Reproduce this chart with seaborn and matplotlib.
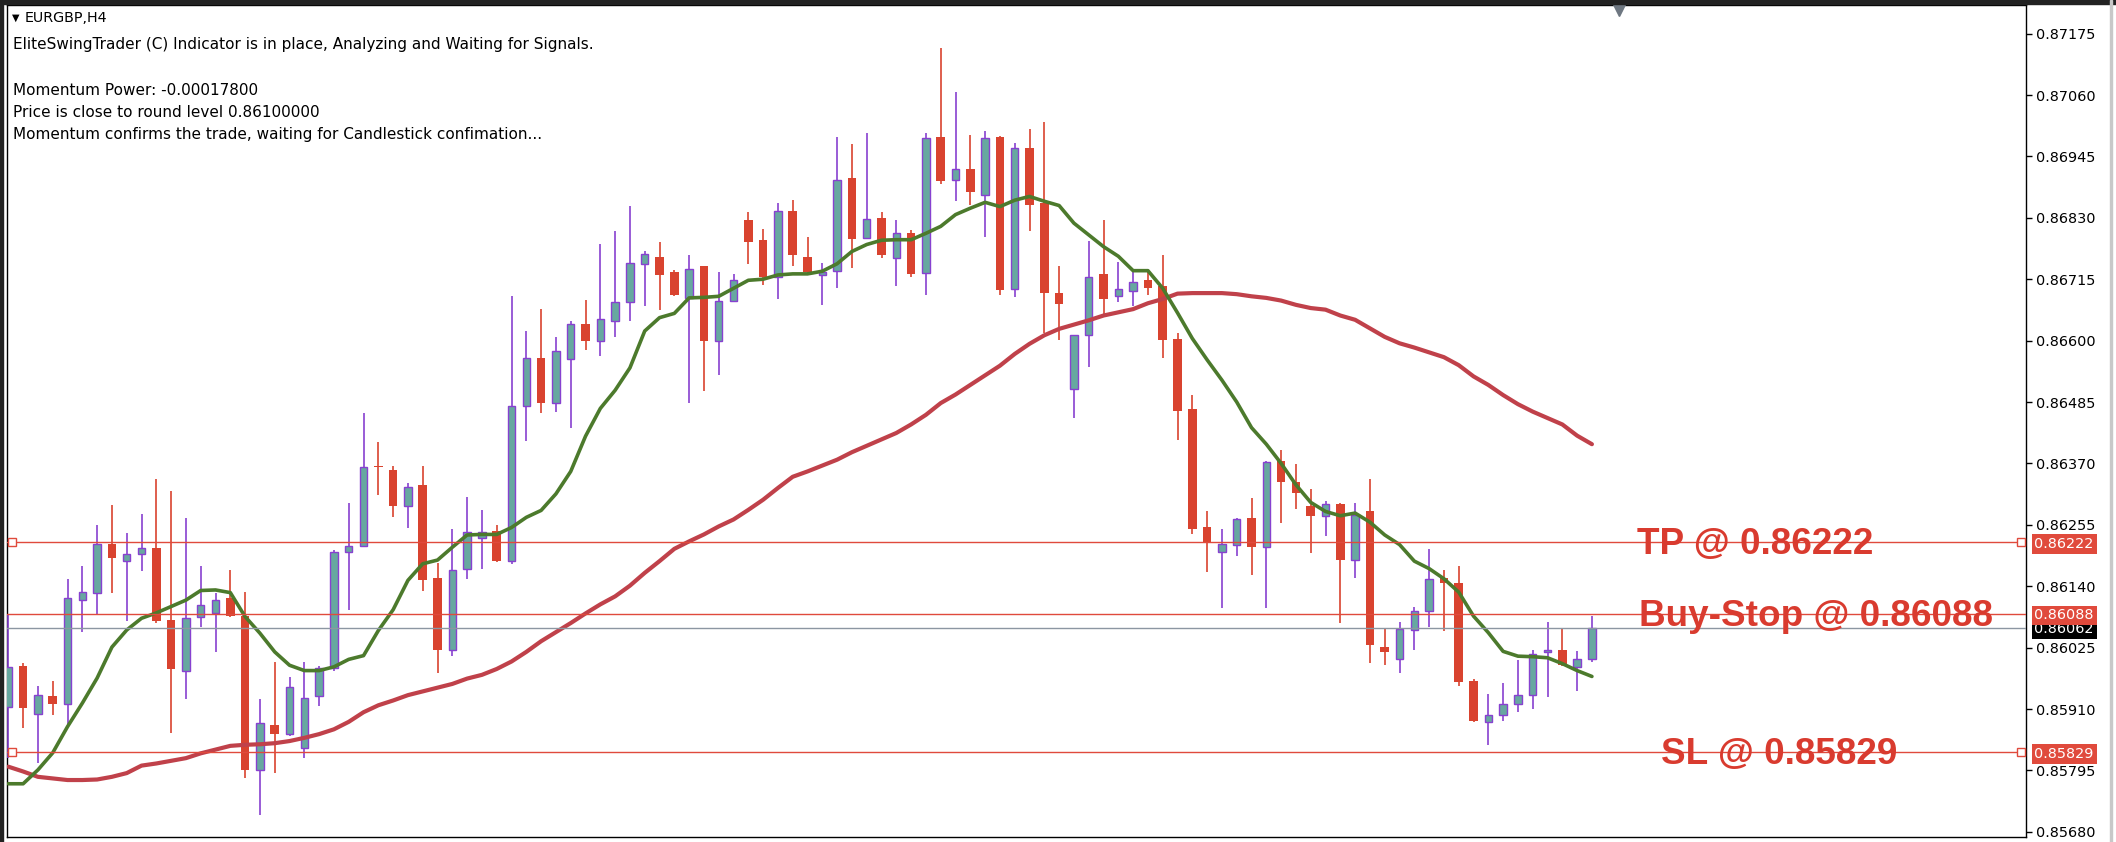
import matplotlib
matplotlib.use("Agg")
from matplotlib import pyplot as plt
from matplotlib import transforms
from matplotlib.patches import Rectangle
import pandas as pd
import seaborn as sns

# EURGBP H4 candles (oldest first)
opens = [0.85913, 0.85990, 0.85900, 0.85935, 0.85920, 0.86114, 0.86128, 0.86220, 0.86187, 0.86200,
         0.86212, 0.86077, 0.85982, 0.86082, 0.86090, 0.86118, 0.86084, 0.85795, 0.85880, 0.85864,
         0.85837, 0.85934, 0.85986, 0.86205, 0.86215, 0.86365, 0.86358, 0.86291, 0.86329, 0.86156,
         0.86021, 0.86173, 0.86230, 0.86243, 0.86188, 0.86478, 0.86568, 0.86484, 0.86565, 0.86631,
         0.86599, 0.86637, 0.86672, 0.86744, 0.86756, 0.86728, 0.86680, 0.86739, 0.86599, 0.86675,
         0.86825, 0.86788, 0.86720, 0.86842, 0.86756, 0.86723, 0.86731, 0.86905, 0.86793, 0.86829,
         0.86755, 0.86801, 0.86727, 0.86981, 0.86900, 0.86922, 0.86873, 0.86981, 0.86697, 0.86960,
         0.86857, 0.86689, 0.86509, 0.86610, 0.86725, 0.86683, 0.86693, 0.86714, 0.86703, 0.86603,
         0.86472, 0.86250, 0.86204, 0.86217, 0.86267, 0.86214, 0.86375, 0.86336, 0.86291, 0.86272,
         0.86294, 0.86189, 0.86281, 0.86027, 0.86003, 0.86058, 0.86093, 0.86156, 0.86146, 0.85963,
         0.85885, 0.85899, 0.85920, 0.85937, 0.86017, 0.86020, 0.85989, 0.86003]
highs = [0.86086, 0.85997, 0.85953, 0.85963, 0.86153, 0.86178, 0.86254, 0.86292, 0.86240, 0.86275,
         0.86341, 0.86319, 0.86268, 0.86178, 0.86127, 0.86171, 0.86129, 0.85929, 0.85998, 0.85970,
         0.85998, 0.85990, 0.86208, 0.86296, 0.86465, 0.86410, 0.86365, 0.86334, 0.86365, 0.86183,
         0.86248, 0.86307, 0.86282, 0.86255, 0.86684, 0.86618, 0.86659, 0.86606, 0.86637, 0.86676,
         0.86781, 0.86805, 0.86853, 0.86767, 0.86785, 0.86733, 0.86760, 0.86740, 0.86728, 0.86725,
         0.86840, 0.86809, 0.86858, 0.86864, 0.86795, 0.86745, 0.86982, 0.86969, 0.86989, 0.86840,
         0.86826, 0.86808, 0.86988, 0.87148, 0.87065, 0.86985, 0.86992, 0.86984, 0.86971, 0.86996,
         0.87009, 0.86739, 0.86611, 0.86787, 0.86825, 0.86747, 0.86734, 0.86733, 0.86760, 0.86614,
         0.86499, 0.86281, 0.86247, 0.86267, 0.86305, 0.86374, 0.86395, 0.86368, 0.86323, 0.86299,
         0.86296, 0.86295, 0.86341, 0.86059, 0.86073, 0.86101, 0.86209, 0.86171, 0.86177, 0.85966,
         0.85939, 0.85959, 0.86001, 0.86020, 0.86073, 0.86059, 0.86018, 0.86084]
lows = [0.85818, 0.85875, 0.85809, 0.85898, 0.85881, 0.86054, 0.86087, 0.86127, 0.86074, 0.86168,
        0.86071, 0.85866, 0.85929, 0.86064, 0.86016, 0.86082, 0.85781, 0.85711, 0.85790, 0.85860,
        0.85818, 0.85915, 0.85982, 0.86096, 0.86213, 0.86311, 0.86270, 0.86249, 0.86131, 0.85978,
        0.86010, 0.86153, 0.86173, 0.86186, 0.86181, 0.86412, 0.86464, 0.86467, 0.86436, 0.86583,
        0.86571, 0.86606, 0.86637, 0.86664, 0.86657, 0.86684, 0.86483, 0.86505, 0.86535, 0.86674,
        0.86743, 0.86705, 0.86678, 0.86740, 0.86727, 0.86667, 0.86698, 0.86736, 0.86792, 0.86754,
        0.86702, 0.86719, 0.86685, 0.86893, 0.86861, 0.86854, 0.86795, 0.86685, 0.86682, 0.86806,
        0.86615, 0.86602, 0.86456, 0.86550, 0.86648, 0.86672, 0.86664, 0.86685, 0.86567, 0.86414,
        0.86237, 0.86167, 0.86099, 0.86196, 0.86161, 0.86099, 0.86258, 0.86285, 0.86203, 0.86234,
        0.86072, 0.86155, 0.85996, 0.85992, 0.85978, 0.86020, 0.86064, 0.86057, 0.85954, 0.85885,
        0.85843, 0.85888, 0.85905, 0.85910, 0.85933, 0.85991, 0.85943, 0.85999]
closes = [0.85989, 0.85912, 0.85937, 0.85919, 0.86118, 0.86129, 0.86219, 0.86193, 0.86201, 0.86212,
          0.86074, 0.85985, 0.86080, 0.86104, 0.86114, 0.86085, 0.85795, 0.85883, 0.85864, 0.85951,
          0.85931, 0.85986, 0.86204, 0.86215, 0.86364, 0.86363, 0.86291, 0.86326, 0.86152, 0.86021,
          0.86170, 0.86242, 0.86242, 0.86187, 0.86478, 0.86568, 0.86483, 0.86581, 0.86631, 0.86599,
          0.86641, 0.86673, 0.86745, 0.86762, 0.86722, 0.86685, 0.86735, 0.86599, 0.86675, 0.86714,
          0.86785, 0.86719, 0.86842, 0.86761, 0.86728, 0.86728, 0.86901, 0.86791, 0.86828, 0.86760,
          0.86801, 0.86725, 0.86980, 0.86899, 0.86922, 0.86878, 0.86980, 0.86695, 0.86960, 0.86854,
          0.86689, 0.86668, 0.86610, 0.86720, 0.86678, 0.86697, 0.86710, 0.86698, 0.86602, 0.86469,
          0.86247, 0.86222, 0.86219, 0.86266, 0.86213, 0.86373, 0.86335, 0.86314, 0.86272, 0.86294,
          0.86189, 0.86274, 0.86030, 0.86017, 0.86059, 0.86094, 0.86153, 0.86146, 0.85961, 0.85887,
          0.85899, 0.85920, 0.85937, 0.86013, 0.86020, 0.85992, 0.86003, 0.86062]

# indicator lines as drawn on the chart
fast_ma = [0.85770, 0.85770, 0.85796, 0.85828, 0.85877, 0.85921, 0.85968, 0.86026, 0.86058, 0.86080,
           0.86090, 0.86102, 0.86114, 0.86132, 0.86133, 0.86128, 0.86083, 0.86052, 0.86017, 0.85992,
           0.85982, 0.85982, 0.85989, 0.86003, 0.86010, 0.86057, 0.86096, 0.86151, 0.86182, 0.86189,
           0.86213, 0.86236, 0.86237, 0.86237, 0.86250, 0.86269, 0.86282, 0.86313, 0.86355, 0.86421,
           0.86473, 0.86507, 0.86549, 0.86618, 0.86643, 0.86651, 0.86680, 0.86681, 0.86683, 0.86698,
           0.86713, 0.86715, 0.86723, 0.86725, 0.86725, 0.86730, 0.86744, 0.86767, 0.86780, 0.86788,
           0.86789, 0.86789, 0.86801, 0.86814, 0.86836, 0.86848, 0.86859, 0.86851, 0.86863, 0.86870,
           0.86861, 0.86853, 0.86820, 0.86798, 0.86776, 0.86758, 0.86731, 0.86731, 0.86698, 0.86652,
           0.86604, 0.86564, 0.86526, 0.86485, 0.86437, 0.86406, 0.86370, 0.86330, 0.86297, 0.86280,
           0.86272, 0.86277, 0.86260, 0.86236, 0.86218, 0.86187, 0.86173, 0.86154, 0.86129, 0.86084,
           0.86053, 0.86018, 0.86009, 0.86008, 0.86006, 0.85995, 0.85982, 0.85971]
slow_ma = [0.85802, 0.85793, 0.85783, 0.85780, 0.85777, 0.85777, 0.85778, 0.85783, 0.85790, 0.85804,
           0.85808, 0.85813, 0.85818, 0.85827, 0.85834, 0.85841, 0.85843, 0.85844, 0.85846, 0.85850,
           0.85856, 0.85863, 0.85872, 0.85886, 0.85904, 0.85917, 0.85926, 0.85936, 0.85943, 0.85950,
           0.85957, 0.85967, 0.85974, 0.85985, 0.85999, 0.86017, 0.86037, 0.86054, 0.86071, 0.86089,
           0.86106, 0.86121, 0.86141, 0.86165, 0.86187, 0.86210, 0.86224, 0.86237, 0.86252, 0.86265,
           0.86283, 0.86302, 0.86324, 0.86345, 0.86355, 0.86366, 0.86377, 0.86391, 0.86403, 0.86415,
           0.86427, 0.86443, 0.86461, 0.86483, 0.86499, 0.86517, 0.86535, 0.86553, 0.86575, 0.86594,
           0.86610, 0.86622, 0.86630, 0.86638, 0.86647, 0.86653, 0.86659, 0.86670, 0.86678, 0.86688,
           0.86689, 0.86689, 0.86689, 0.86687, 0.86683, 0.86680, 0.86675, 0.86667, 0.86661, 0.86658,
           0.86647, 0.86639, 0.86623, 0.86607, 0.86595, 0.86587, 0.86578, 0.86569, 0.86554, 0.86533,
           0.86517, 0.86498, 0.86481, 0.86467, 0.86455, 0.86443, 0.86422, 0.86406]

tick_prices = [0.85680, 0.85795, 0.85910, 0.86025, 0.86140, 0.86255, 0.86370,
               0.86485, 0.86600, 0.86715, 0.86830, 0.86945, 0.87060, 0.87175]

tp_price = 0.86222
buy_stop_price = 0.86088
sl_price = 0.85829
bid_price = 0.86062

symbol_label = "EURGBP,H4"
info_lines = ["EliteSwingTrader (C) Indicator is in place, Analyzing and Waiting for Signals.",
              "Momentum Power: -0.00017800",
              "Price is close to round level 0.86100000",
              "Momentum confirms the trade, waiting for Candlestick confimation..."]

W, H = 2116, 842
BEAR = "#D9432F"
BULL = "#67A8A0"
PURPLE = "#8741D0"
LINE_RED = "#E04A3C"
LABEL_RED = "#D93B2F"

sns.set_theme(style="white")
plt.rcParams['font.family'] = ['DejaVu Sans']

df = pd.DataFrame({"bar": range(len(opens)), "open": opens, "high": highs, "low": lows,
                   "close": closes, "fast": fast_ma, "slow": slow_ma})
up = df[df["close"] >= df["open"]]
down = df[df["close"] < df["open"]]

fig = plt.figure(figsize=(W / 100, H / 100), dpi=100)
fig.patch.set_facecolor("white")
ax = fig.add_axes([7 / W, 5 / H, 2019 / W, 832 / H])
ax.set_facecolor("white")

# candles
ax.vlines(down["bar"], down["low"], down["high"], color=BEAR, lw=1.2, zorder=3)
ax.vlines(up["bar"], up["low"], up["high"], color=PURPLE, lw=1.2, zorder=3)
ax.bar(down["bar"], down["open"] - down["close"], bottom=down["close"], width=0.58,
       color=BEAR, linewidth=0, zorder=4)
ax.bar(up["bar"], up["close"] - up["open"], bottom=up["open"], width=0.5,
       color=BULL, edgecolor=PURPLE, linewidth=1.0, zorder=4)

# moving averages
sns.lineplot(x=df["bar"], y=df["slow"], ax=ax, color="#C0414A", linewidth=3.0, zorder=5)
sns.lineplot(x=df["bar"], y=df["fast"], ax=ax, color="#4C7A2C", linewidth=2.6, zorder=5)

# order lines
ax.axhline(bid_price, color="#8C96A2", lw=1.0, zorder=5.5)
for price in [tp_price, buy_stop_price, sl_price]:
    ax.axhline(price, color=LINE_RED, lw=1.0, zorder=6)
for price in [tp_price, sl_price]:
    ax.plot([0.0025, 0.9975], [price, price], ls="none", marker="s", ms=5.5, mfc="white",
            mec=LINE_RED, mew=1.0, transform=ax.get_yaxis_transform(), zorder=7, clip_on=False)

big_labels = [("TP @ ", tp_price, 1637), ("Buy-Stop @ ", buy_stop_price, 1639), ("SL @ ", sl_price, 1661)]
for name, price, xpx in big_labels:
    ax.annotate(f"{name}{price:.5f}", xy=((xpx - 7) / 2019, price), xycoords=ax.get_yaxis_transform(),
                xytext=(0, -12), textcoords="offset pixels", ha="left", va="baseline",
                fontsize=26.6, fontweight="bold", family=["Liberation Sans", "DejaVu Sans"],
                color=LABEL_RED, zorder=8)

# axes
ax.set_xlim(-0.09, 136.33)
ax.set_ylim(0.856703, 0.872286)
ax.set_xticks([])
ax.yaxis.tick_right()
ax.set_yticks(tick_prices)
ax.set_yticklabels([f"{p:.5f}" for p in tick_prices])
ax.tick_params(axis="y", right=True, left=False, direction="out", length=4.5, width=1.0,
               pad=3, labelsize=10.4, labelcolor="black", color="black")
ax.set_xlabel("")
ax.set_ylabel("")
for s in ax.spines.values():
    s.set_color("black")
    s.set_linewidth(1.0)

# price tags on the scale
tag_trans = transforms.offset_copy(ax.get_yaxis_transform(), fig=fig, x=8.5, y=0, units="dots")
for price, fc, z in [(bid_price, "black", 10), (tp_price, LINE_RED, 11),
                     (buy_stop_price, LINE_RED, 11), (sl_price, LINE_RED, 11)]:
    ax.text(1.0, price, f"{price:.5f}", transform=tag_trans, ha="left", va="center_baseline",
            fontsize=10.4, color="white", zorder=z, clip_on=False,
            bbox=dict(boxstyle="square,pad=0.2", fc=fc, ec="none"))

# chart shift marker
ax.plot([0.7984], [0.994], marker="v", ms=8, color="#6E7781", transform=ax.transAxes,
        clip_on=False, zorder=9)

# info text block
fig.text(12 / W, 1 - 18 / H, "\u25bc", fontsize=7, va="center", ha="left", color="black")
fig.text(25 / W, 1 - 18 / H, symbol_label, fontsize=10.3, va="center", ha="left", color="black")
for line, ypx in zip(info_lines, [44.5, 90.5, 112.5, 135]):
    fig.text(13 / W, 1 - ypx / H, line, fontsize=11, va="center", ha="left", color="black")

# window frame
fig.add_artist(Rectangle((0, 1 - 4 / H), 1, 4 / H, transform=fig.transFigure, color="#222222", zorder=20))
fig.add_artist(Rectangle((0, 0), 3 / W, 1, transform=fig.transFigure, color="#222222", zorder=20))
fig.add_artist(Rectangle((2110 / W, 0), 1.5 / W, 1, transform=fig.transFigure, color="#C8C8C8", zorder=20))

fig.savefig("out.png", dpi=100)
